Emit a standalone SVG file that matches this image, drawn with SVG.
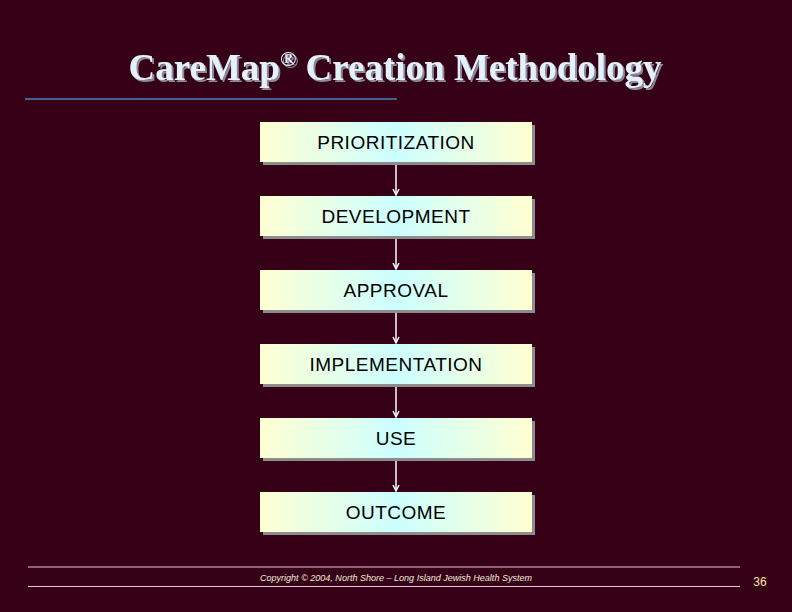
<svg xmlns="http://www.w3.org/2000/svg" width="792" height="612" viewBox="0 0 792 612">
<defs>
<linearGradient id="g" x1="0" y1="0" x2="1" y2="0">
<stop offset="0" stop-color="#FFFFD2"/>
<stop offset="0.5" stop-color="#CCFFFF"/>
<stop offset="1" stop-color="#FFFFD2"/>
</linearGradient>
<marker id="ah" markerWidth="8" markerHeight="8" refX="7" refY="4" orient="auto" markerUnits="userSpaceOnUse">
<path d="M1,1 L7,4 L1,7" fill="none" stroke="#FFFFFF" stroke-width="1.4"/>
</marker>
<filter id="ts" x="-5%" y="-20%" width="110%" height="140%">
<feDropShadow dx="2" dy="2" stdDeviation="0.6" flood-color="#8A8A9A" flood-opacity="1"/>
</filter>
</defs>
<style>
.shadow{fill:#8C8C8C}
.box{fill:url(#g)}
.lbl{font-family:"Liberation Sans",Arial,sans-serif;font-size:19px;letter-spacing:0.5px;fill:#000;text-anchor:middle}
.conn{stroke:#FFFFFF;stroke-width:1.5;fill:none;marker-end:url(#ah)}
</style>
<rect width="792" height="612" fill="#360016"/>
<g id="title">
<text x="395" y="80" text-anchor="middle" font-family="'Liberation Serif','Times New Roman',serif" font-weight="bold" font-size="37" fill="#E4F0FA" filter="url(#ts)">CareMap<tspan font-size="22" dy="-14">®</tspan><tspan dy="14"> Creation Methodology</tspan></text>
<line x1="25" y1="99" x2="397" y2="99" stroke="#4D7FC4" stroke-width="1.3"/>
</g>
<g id="connectors">
<line class="conn" x1="396" y1="163" x2="396" y2="195"/>
<line class="conn" x1="396" y1="237" x2="396" y2="269"/>
<line class="conn" x1="396" y1="311" x2="396" y2="343"/>
<line class="conn" x1="396" y1="385" x2="396" y2="417"/>
<line class="conn" x1="396" y1="459" x2="396" y2="491"/>
</g>
<g id="n1"><rect class="shadow" x="263" y="125" width="272" height="40"/><rect class="box" x="260" y="122" width="272" height="40"/><text class="lbl" x="396" y="149">PRIORITIZATION</text></g>
<g id="n2"><rect class="shadow" x="263" y="199" width="272" height="40"/><rect class="box" x="260" y="196" width="272" height="40"/><text class="lbl" x="396" y="223">DEVELOPMENT</text></g>
<g id="n3"><rect class="shadow" x="263" y="273" width="272" height="40"/><rect class="box" x="260" y="270" width="272" height="40"/><text class="lbl" x="396" y="297">APPROVAL</text></g>
<g id="n4"><rect class="shadow" x="263" y="347" width="272" height="40"/><rect class="box" x="260" y="344" width="272" height="40"/><text class="lbl" x="396" y="371">IMPLEMENTATION</text></g>
<g id="n5"><rect class="shadow" x="263" y="421" width="272" height="40"/><rect class="box" x="260" y="418" width="272" height="40"/><text class="lbl" x="396" y="445">USE</text></g>
<g id="n6"><rect class="shadow" x="263" y="495" width="272" height="40"/><rect class="box" x="260" y="492" width="272" height="40"/><text class="lbl" x="396" y="519">OUTCOME</text></g>
<g id="footer">
<line x1="28" y1="567" x2="740" y2="567" stroke="#E6C6D6" stroke-width="1"/>
<line x1="28" y1="586.5" x2="740" y2="586.5" stroke="#E6C6D6" stroke-width="1"/>
<text x="396" y="581" text-anchor="middle" font-family="'Liberation Sans',Arial,sans-serif" font-style="italic" font-size="9" fill="#F2EEDC" textLength="272" lengthAdjust="spacingAndGlyphs">Copyright © 2004, North Shore – Long Island Jewish Health System</text>
<text x="760" y="586" text-anchor="middle" font-family="'Liberation Sans',Arial,sans-serif" font-size="12" fill="#FFE4A8">36</text>
</g>
</svg>
